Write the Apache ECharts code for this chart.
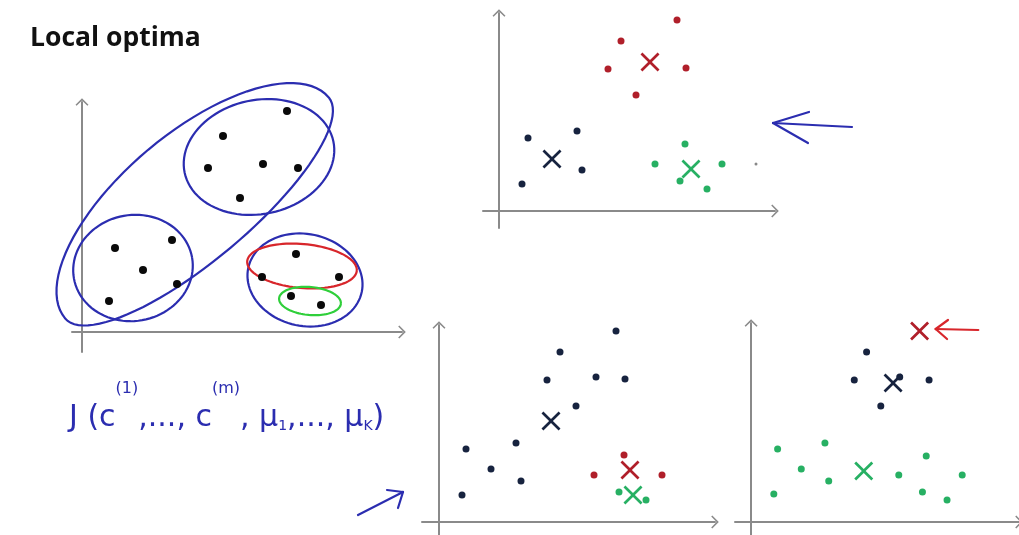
<!DOCTYPE html>
<html>
<head>
<meta charset="utf-8">
<script src="https://cdn.jsdelivr.net/npm/echarts@6/dist/echarts.min.js"></script>
<style>html,body{margin:0;padding:0;background:#fff}#c{width:1019px;height:535px}</style>
</head>
<body>
<div id="c"></div>
<script>
// ---------- DATA (units: arbitrary) ----------
// Panel A (left): unlabelled points and hand-drawn cluster loops
const panelA_points = [[10.25,11.05],[7.05,9.8],[6.3,8.2],[9.05,8.4],[10.8,8.2],[7.9,6.7],
  [1.65,4.2],[4.5,4.6],[3.05,3.1],[4.75,2.4],[1.35,1.55],
  [10.7,3.9],[9.0,2.75],[12.85,2.75],[10.45,1.8],[11.95,1.35]];
// loops: [centerX, centerY, semiMajor, semiMinorUpperSide, semiMinorLowerSide, angleDeg]
const panelA_blueLoops = [[8.85,8.75,3.8,2.85,2.85,12],[2.55,3.2,3.0,2.65,2.65,10],
  [5.75,6.2,8.6,3.8,2.6,40],[11.15,2.6,2.9,2.3,2.3,-12]];
const panelA_redLoops = [[11.0,3.3,2.75,1.1,1.1,-5]];
const panelA_greenLoops = [[11.4,1.55,1.55,0.7,0.7,-5]];

// Panel B (top right): good clustering
const panelB_red = [[8.9,9.55],[6.1,8.5],[5.45,7.1],[9.35,7.15],[6.85,5.8]];
const panelB_redCentroid = [[7.55,7.45]];
const panelB_navy = [[1.45,3.65],[3.9,4.0],[1.15,1.35],[4.15,2.05]];
const panelB_navyCentroid = [[2.65,2.6]];
const panelB_green = [[9.3,3.35],[7.8,2.35],[11.15,2.35],[9.05,1.5],[10.4,1.1]];
const panelB_greenCentroid = [[9.6,2.1]];
const panelB_speck = [[12.85,2.35]];
const panelB_arrow = [[17.65,4.2,13.7,4.4],[13.7,4.4,15.5,4.95],[13.7,4.4,15.45,3.4]];

// Panel C (bottom middle): local optimum 1
const panelC_navy = [[8.85,9.55],[6.05,8.5],[5.4,7.1],[7.85,7.25],[9.3,7.15],[6.85,5.8],
  [1.35,3.65],[3.85,3.95],[2.6,2.65],[4.1,2.05],[1.15,1.35]];
const panelC_navyCentroid = [[5.6,5.05]];
const panelC_red = [[9.25,3.35],[7.75,2.35],[11.15,2.35]];
const panelC_redCentroid = [[9.55,2.6]];
const panelC_green = [[9.0,1.5],[10.35,1.1]];
const panelC_greenCentroid = [[9.7,1.35]];
const panelC_arrow = [[-4.05,0.35,-1.8,1.5],[-1.8,1.5,-2.6,1.6],[-1.8,1.5,-2.05,0.7]];

// Panel D (bottom right): local optimum 2
const panelD_redCentroid = [[8.9,9.55]];
const panelD_navy = [[6.1,8.5],[5.45,7.1],[7.85,7.25],[9.4,7.1],[6.85,5.8]];
const panelD_navyCentroid = [[7.5,6.95]];
const panelD_green = [[1.4,3.65],[3.9,3.95],[2.65,2.65],[4.1,2.05],[1.2,1.4],
  [7.8,2.35],[9.25,3.3],[11.15,2.35],[9.05,1.5],[10.35,1.1]];
const panelD_greenCentroid = [[5.95,2.55]];
const panelD_arrow = [[12.0,9.6,9.75,9.65],[9.75,9.65,10.4,10.1],[9.75,9.65,10.35,9.15]];

const titleText = 'Local optima';

// ---------- STYLE ----------
const C = {axis:'#8a8a8a', ink:'#2b2db0', navy:'#17233f', red:'#b01f2a', green:'#27b063', dot:'#0a0a0a'};
const chevron = 'path://M10,0 L20,10 L18.3,11.7 L10,3.4 L1.7,11.7 L0,10 Z';
const cross = 'path://M0,2 L2,0 L10,8 L18,0 L20,2 L12,10 L20,18 L18,20 L10,12 L2,20 L0,18 L8,10 Z';

const grids = [
  {left:72, top:102, width:330, height:250, x:[-0.5,16], y:[-1,11.5]},
  {left:483, top:13, width:292, height:215, x:[-0.8,13.8], y:[-0.85,9.9]},
  {left:422, top:325, width:293, height:210, x:[-0.85,13.8], y:[-0.65,9.85]},
  {left:735, top:323, width:300, height:212, x:[-0.85,14.15], y:[-0.65,9.95]}
];
function axis(i, r){
  return {type:'value', gridIndex:i, min:r[0], max:r[1],
    axisLine:{show:true, onZero:true, symbol:['none', chevron], symbolSize:[13,8], lineStyle:{color:C.axis, width:2}},
    axisTick:{show:false}, axisLabel:{show:false}, splitLine:{show:false}};
}
function dots(i, data, color, size){
  return {type:'scatter', xAxisIndex:i, yAxisIndex:i, data:data, symbol:'circle', symbolSize:size||7,
    itemStyle:{color:color, opacity:1}, silent:true, z:5};
}
function xs(i, data, color){
  return {type:'scatter', xAxisIndex:i, yAxisIndex:i, data:data, symbol:cross, symbolSize:19,
    itemStyle:{color:color, opacity:1}, silent:true, z:6};
}
function loops(i, data, color){
  return {type:'custom', xAxisIndex:i, yAxisIndex:i, data:data, silent:true, z:3,
    renderItem:function(p, api){
      const cx=api.value(0), cy=api.value(1), a=api.value(2), bu=api.value(3), bl=api.value(4), t0=api.value(5)*Math.PI/180;
      const pts=[];
      for(let k=0;k<=96;k++){
        const t=k/96*2*Math.PI, s=Math.sin(t), b=s>=0?bu:bl;
        pts.push(api.coord([cx+a*Math.cos(t)*Math.cos(t0)-b*s*Math.sin(t0),
                            cy+a*Math.cos(t)*Math.sin(t0)+b*s*Math.cos(t0)]));
      }
      return {type:'polyline', shape:{points:pts}, style:{stroke:color, lineWidth:2.2, fill:null}};
    }};
}
function segs(i, data, color){
  return {type:'custom', xAxisIndex:i, yAxisIndex:i, data:data, silent:true, z:4,
    renderItem:function(p, api){
      const a=api.coord([api.value(0),api.value(1)]), b=api.coord([api.value(2),api.value(3)]);
      return {type:'line', shape:{x1:a[0],y1:a[1],x2:b[0],y2:b[1]}, style:{stroke:color, lineWidth:2.2, lineCap:'round'}};
    }};
}

const option = {
  backgroundColor:'#ffffff',
  animation:false,
  title:[
    {text:titleText, left:25, top:20, textStyle:{fontFamily:'Open Sans', fontWeight:'bold', fontSize:26.5, color:'#111'}},
    {text:'{m|J (c}{s|(1)}{m|,..., c}{s|(m)}{m|, μ}{b|1}{m|,..., μ}{b|K}{m|)}', left:64, top:376,
     textStyle:{fontWeight:'normal', rich:{
       m:{fontFamily:'DejaVu Sans', fontWeight:'normal', fontSize:30, color:C.ink, verticalAlign:'bottom', lineHeight:52},
       s:{fontFamily:'DejaVu Sans', fontWeight:'normal', fontSize:16, color:C.ink, verticalAlign:'top', lineHeight:11},
       b:{fontFamily:'DejaVu Sans', fontWeight:'normal', fontSize:14, color:C.ink, verticalAlign:'bottom', lineHeight:44}
     }}}
  ],
  grid: grids.map(g=>({left:g.left, top:g.top, width:g.width, height:g.height, containLabel:false})),
  xAxis: grids.map((g,i)=>axis(i,g.x)),
  yAxis: grids.map((g,i)=>axis(i,g.y)),
  series:[
    loops(0, panelA_blueLoops, C.ink),
    loops(0, panelA_redLoops, '#d8262b'),
    loops(0, panelA_greenLoops, '#2fcf3a'),
    dots(0, panelA_points, C.dot, 8),

    dots(1, panelB_red, C.red), xs(1, panelB_redCentroid, C.red),
    dots(1, panelB_navy, C.navy), xs(1, panelB_navyCentroid, C.navy),
    dots(1, panelB_green, C.green), xs(1, panelB_greenCentroid, C.green),
    dots(1, panelB_speck, '#888', 3),
    segs(1, panelB_arrow, C.ink),

    dots(2, panelC_navy, C.navy), xs(2, panelC_navyCentroid, C.navy),
    dots(2, panelC_red, C.red), xs(2, panelC_redCentroid, C.red),
    dots(2, panelC_green, C.green), xs(2, panelC_greenCentroid, C.green),
    segs(2, panelC_arrow, C.ink),

    xs(3, panelD_redCentroid, C.red),
    dots(3, panelD_navy, C.navy), xs(3, panelD_navyCentroid, C.navy),
    dots(3, panelD_green, C.green), xs(3, panelD_greenCentroid, C.green),
    segs(3, panelD_arrow, '#d8262b')
  ]
};
echarts.init(document.getElementById('c'), null, {renderer:'canvas'}).setOption(option);
</script>
</body>
</html>
